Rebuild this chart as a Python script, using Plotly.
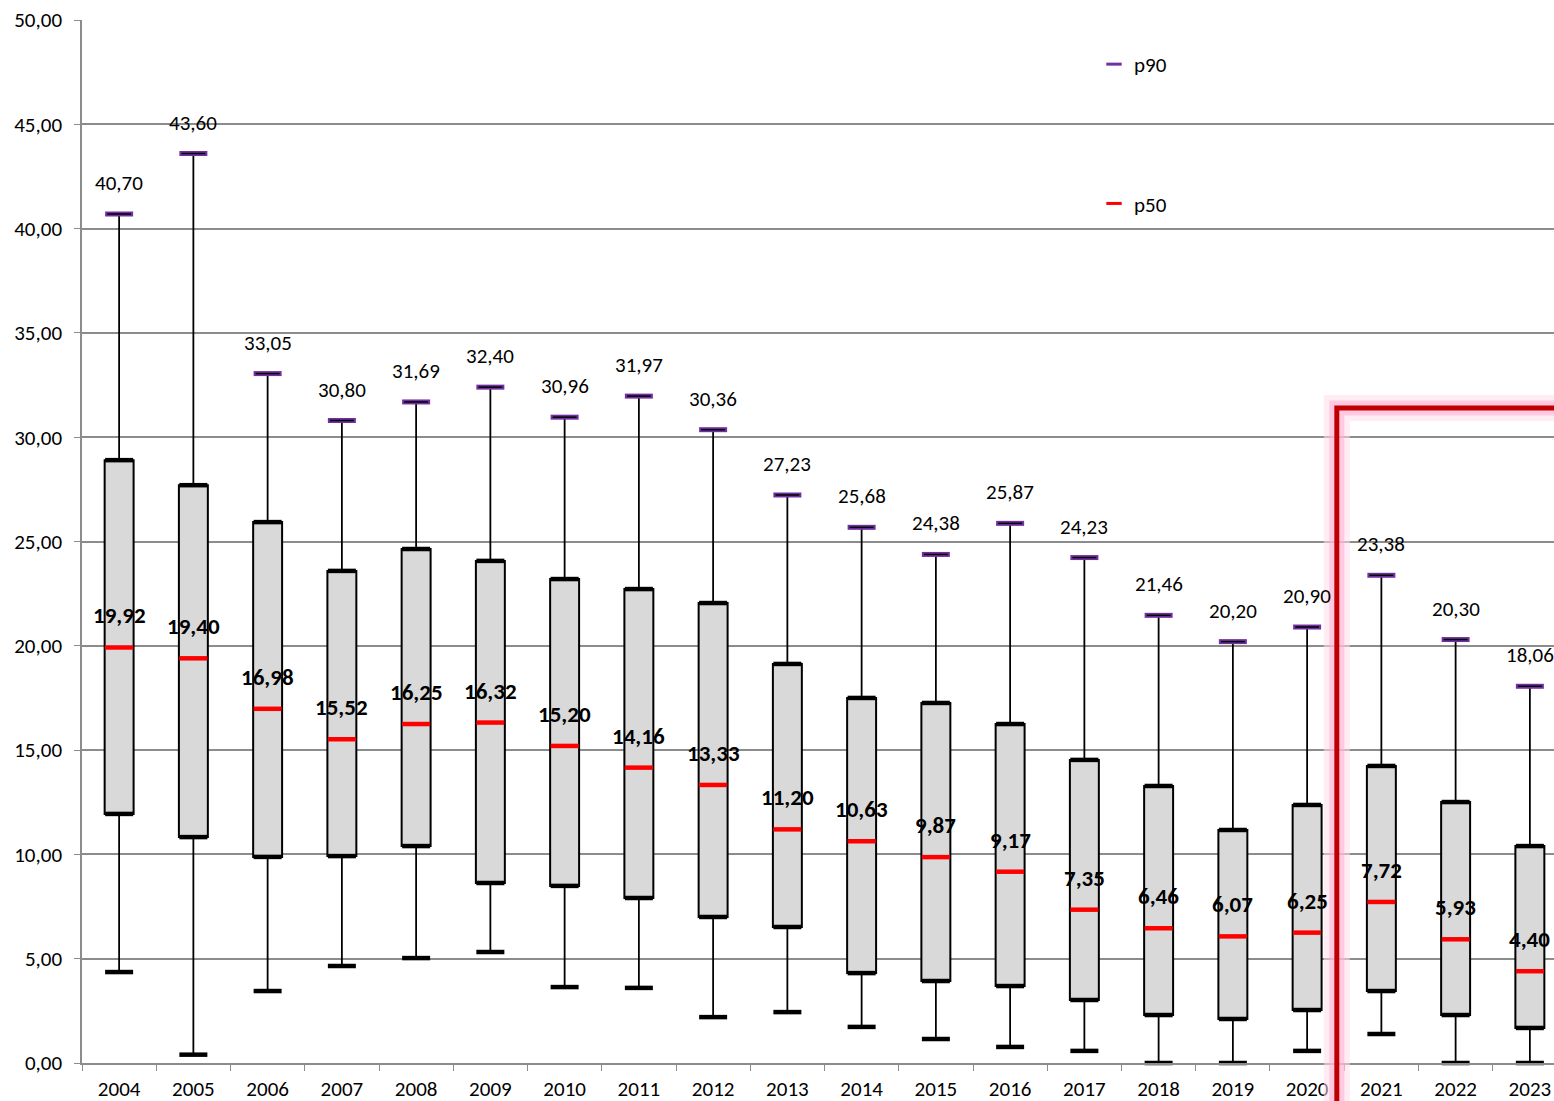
import plotly.graph_objects as go

years = [str(y) for y in range(2004, 2024)]
p10 = [4.36, 0.40, 3.45, 4.65, 5.03, 5.32, 3.64, 3.60, 2.20, 2.44, 1.73, 1.15, 0.77, 0.58, 0.0, 0.0, 0.58, 1.39, 0.0, 0.0]
q1 = [11.94, 10.83, 9.88, 9.92, 10.40, 8.63, 8.49, 7.91, 7.00, 6.52, 4.31, 3.93, 3.69, 3.02, 2.30, 2.11, 2.54, 3.45, 2.30, 1.68]
p50 = [19.92, 19.40, 16.98, 15.52, 16.25, 16.32, 15.20, 14.16, 13.33, 11.20, 10.63, 9.87, 9.17, 7.35, 6.46, 6.07, 6.25, 7.72, 5.93, 4.40]
q3 = [28.90, 27.70, 25.93, 23.59, 24.64, 24.07, 23.20, 22.72, 22.05, 19.13, 17.50, 17.26, 16.25, 14.53, 13.28, 11.17, 12.37, 14.24, 12.51, 10.40]
p90 = [40.70, 43.60, 33.05, 30.80, 31.69, 32.40, 30.96, 31.97, 30.36, 27.23, 25.68, 24.38, 25.87, 24.23, 21.46, 20.20, 20.90, 23.38, 20.30, 18.06]

split_pos = 16.4     # between 2020 and 2021 (category index scale)
split_level = 31.4
x_range = [-0.5, 19.325]
y_range = [0, 50]

FONT = "Carlito, Lato, sans-serif"

def fmt(v):
    return f"{v:.2f}".replace(".", ",")

fig = go.Figure()

# boxes (q1..q3)
fig.add_trace(go.Bar(
    x=years, y=[b - a for a, b in zip(q1, q3)], base=q1, width=0.39,
    marker=dict(color="#D9D9D9", line=dict(color="black", width=2)),
    showlegend=False, hoverinfo="skip"))

# whiskers
wx, wy = [], []
for i, yr in enumerate(years):
    wx += [yr, yr, None, yr, yr, None]
    wy += [p10[i], q1[i], None, q3[i], p90[i], None]
fig.add_trace(go.Scatter(x=wx, y=wy, mode="lines", line=dict(color="black", width=1.8),
                         showlegend=False, hoverinfo="skip", cliponaxis=False))

# black caps at p10, q1, q3
fig.add_trace(go.Scatter(
    x=years * 3, y=p10 + q1 + q3, mode="markers",
    marker=dict(symbol="line-ew", size=20, line=dict(color="black", width=4.5)),
    showlegend=False, hoverinfo="skip", cliponaxis=False))

# p90 caps
fig.add_trace(go.Scatter(
    x=years, y=p90, mode="markers", legendgroup="a", showlegend=False,
    marker=dict(symbol="line-ew", size=20, line=dict(color="#7030A0", width=5)),
    hoverinfo="skip", cliponaxis=False))
fig.add_trace(go.Scatter(
    x=years, y=p90, mode="markers", legendgroup="a",
    marker=dict(symbol="line-ew", size=17, line=dict(color="black", width=1.5)),
    showlegend=False, hoverinfo="skip", cliponaxis=False))

# p50 medians
fig.add_trace(go.Scatter(
    x=years, y=p50, mode="markers", legendgroup="b", showlegend=False,
    marker=dict(symbol="line-ew", size=20, line=dict(color="#FF0000", width=4.5)),
    hoverinfo="skip", cliponaxis=False))

# legend entries (smaller key glyphs, like the reference)
fig.add_trace(go.Scatter(x=[None], y=[None], mode="markers", name="p90", legendgroup="a",
                         marker=dict(symbol="line-ew", size=11, line=dict(color="#7030A0", width=3))))
fig.add_trace(go.Scatter(x=[None], y=[None], mode="markers", name="p50", legendgroup="b",
                         marker=dict(symbol="line-ew", size=11, line=dict(color="#FF0000", width=3))))

annotations = []
for i in range(len(years)):
    annotations.append(dict(x=i, y=p90[i], xref="x", yref="y", text=fmt(p90[i]),
                            showarrow=False, yshift=31, yanchor="middle",
                            font=dict(family=FONT, size=21, color="black")))
    annotations.append(dict(x=i, y=p50[i], xref="x", yref="y", text="<b>" + fmt(p50[i]) + "</b>",
                            showarrow=False, yshift=32, yanchor="middle",
                            font=dict(family=FONT, size=23, color="black")))

# red split line (paper coords derived from axis ranges)
xp = (split_pos - x_range[0]) / (x_range[1] - x_range[0])
yp = (split_level - y_range[0]) / (y_range[1] - y_range[0])
path = f"M {xp} -0.06 L {xp} {yp} L 1.02 {yp}"
shapes = [
    dict(type="path", path=path, xref="paper", yref="paper",
         line=dict(color="rgba(255,220,236,0.55)", width=26)),
    dict(type="path", path=path, xref="paper", yref="paper",
         line=dict(color="rgba(255,175,208,0.55)", width=15)),
    dict(type="path", path=path, xref="paper", yref="paper",
         line=dict(color="#C00000", width=5)),
]

fig.update_layout(
    width=1554, height=1101,
    margin=dict(l=82, r=0, t=20, b=38),
    paper_bgcolor="white", plot_bgcolor="white",
    separators=",.",
    font=dict(family=FONT, size=21, color="black"),
    barmode="overlay",
    annotations=annotations, shapes=shapes,
    showlegend=True,
    legend=dict(x=0.6875, y=0.977, xanchor="left", yanchor="top",
                traceorder="grouped", tracegroupgap=109,
                font=dict(family=FONT, size=21, color="black"),
                bgcolor="rgba(0,0,0,0)"),
    xaxis=dict(type="category", range=x_range, tickson="boundaries",
               ticks="outside", ticklen=6, tickcolor="#8C8C8C",
               showline=True, linecolor="#8C8C8C", linewidth=1.5,
               ticklabelstandoff=6, ticklabeloverflow="allow",
               showgrid=False, tickfont=dict(family=FONT, size=21, color="black")),
    yaxis=dict(range=y_range, dtick=5, tickformat=".2f",
               ticks="outside", ticklen=6, tickcolor="#8C8C8C",
               showline=True, linecolor="#8C8C8C", linewidth=1.5,
               ticklabelstandoff=8, ticklabeloverflow="allow",
               showgrid=True, gridcolor="#8C8C8C", gridwidth=1.5,
               zeroline=False, tickfont=dict(family=FONT, size=21, color="black")),
)

fig.write_html("out.html", config={"displayModeBar": False},
               post_script="document.body.style.margin='0';document.body.style.overflow='hidden';")
